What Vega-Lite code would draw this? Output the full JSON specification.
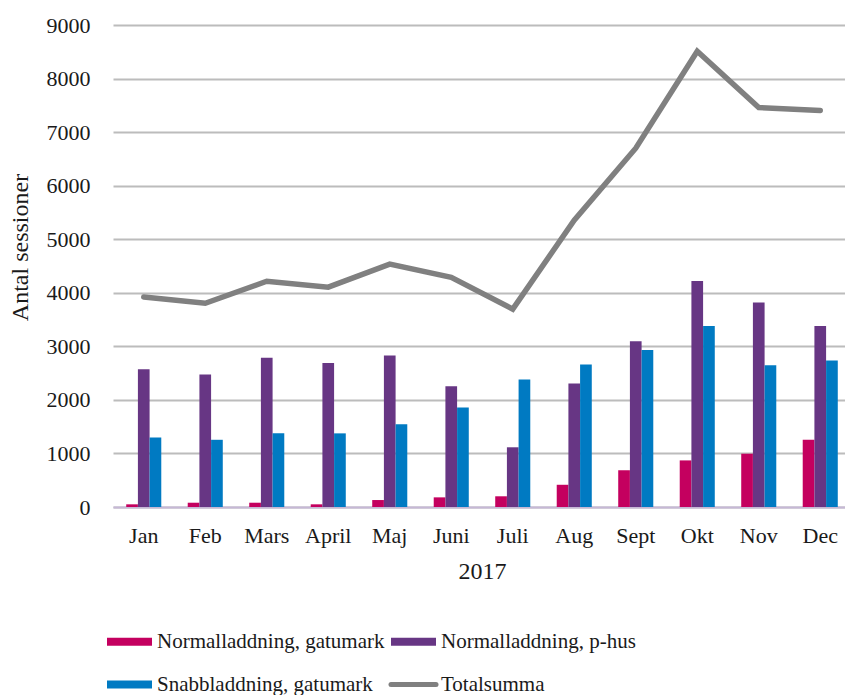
{
  "$schema": "https://vega.github.io/schema/vega-lite/v6.json",
  "autosize": {"type": "none"},
  "width": 738,
  "height": 482,
  "padding": {"left": 113, "top": 25, "right": 0, "bottom": 188},
  "background": "white",
  "config": {
    "font": "Liberation Serif",
    "view": {"stroke": null},
    "axis": {"labelFont": "Liberation Serif", "titleFont": "Liberation Serif", "labelColor": "#1a1a1a", "titleColor": "#1a1a1a", "titleFontWeight": "normal"},
    "legend": {"labelFont": "Liberation Serif"}
  },
  "datasets": {
    "bars": [
      {"month": "Jan", "series": "Normalladdning, gatumark", "value": 50},
      {"month": "Jan", "series": "Normalladdning, p-hus", "value": 2570},
      {"month": "Jan", "series": "Snabbladdning, gatumark", "value": 1300},
      {"month": "Feb", "series": "Normalladdning, gatumark", "value": 80},
      {"month": "Feb", "series": "Normalladdning, p-hus", "value": 2475},
      {"month": "Feb", "series": "Snabbladdning, gatumark", "value": 1255},
      {"month": "Mars", "series": "Normalladdning, gatumark", "value": 80},
      {"month": "Mars", "series": "Normalladdning, p-hus", "value": 2785},
      {"month": "Mars", "series": "Snabbladdning, gatumark", "value": 1375},
      {"month": "April", "series": "Normalladdning, gatumark", "value": 50},
      {"month": "April", "series": "Normalladdning, p-hus", "value": 2690},
      {"month": "April", "series": "Snabbladdning, gatumark", "value": 1375},
      {"month": "Maj", "series": "Normalladdning, gatumark", "value": 130},
      {"month": "Maj", "series": "Normalladdning, p-hus", "value": 2830},
      {"month": "Maj", "series": "Snabbladdning, gatumark", "value": 1545},
      {"month": "Juni", "series": "Normalladdning, gatumark", "value": 180},
      {"month": "Juni", "series": "Normalladdning, p-hus", "value": 2255},
      {"month": "Juni", "series": "Snabbladdning, gatumark", "value": 1860},
      {"month": "Juli", "series": "Normalladdning, gatumark", "value": 200},
      {"month": "Juli", "series": "Normalladdning, p-hus", "value": 1115},
      {"month": "Juli", "series": "Snabbladdning, gatumark", "value": 2380},
      {"month": "Aug", "series": "Normalladdning, gatumark", "value": 415},
      {"month": "Aug", "series": "Normalladdning, p-hus", "value": 2305},
      {"month": "Aug", "series": "Snabbladdning, gatumark", "value": 2660},
      {"month": "Sept", "series": "Normalladdning, gatumark", "value": 685},
      {"month": "Sept", "series": "Normalladdning, p-hus", "value": 3095},
      {"month": "Sept", "series": "Snabbladdning, gatumark", "value": 2930},
      {"month": "Okt", "series": "Normalladdning, gatumark", "value": 870},
      {"month": "Okt", "series": "Normalladdning, p-hus", "value": 4220},
      {"month": "Okt", "series": "Snabbladdning, gatumark", "value": 3380},
      {"month": "Nov", "series": "Normalladdning, gatumark", "value": 995},
      {"month": "Nov", "series": "Normalladdning, p-hus", "value": 3820},
      {"month": "Nov", "series": "Snabbladdning, gatumark", "value": 2645},
      {"month": "Dec", "series": "Normalladdning, gatumark", "value": 1255},
      {"month": "Dec", "series": "Normalladdning, p-hus", "value": 3380},
      {"month": "Dec", "series": "Snabbladdning, gatumark", "value": 2735}
    ],
    "total": [
      {"month": "Jan", "series": "Totalsumma", "value": 3920},
      {"month": "Feb", "series": "Totalsumma", "value": 3805},
      {"month": "Mars", "series": "Totalsumma", "value": 4215},
      {"month": "April", "series": "Totalsumma", "value": 4105},
      {"month": "Maj", "series": "Totalsumma", "value": 4535},
      {"month": "Juni", "series": "Totalsumma", "value": 4290},
      {"month": "Juli", "series": "Totalsumma", "value": 3695},
      {"month": "Aug", "series": "Totalsumma", "value": 5355},
      {"month": "Sept", "series": "Totalsumma", "value": 6700},
      {"month": "Okt", "series": "Totalsumma", "value": 8510},
      {"month": "Nov", "series": "Totalsumma", "value": 7460},
      {"month": "Dec", "series": "Totalsumma", "value": 7405}
    ]
  },
  "encoding": {
    "x": {
      "field": "month", "type": "nominal",
      "sort": ["Jan", "Feb", "Mars", "April", "Maj", "Juni", "Juli", "Aug", "Sept", "Okt", "Nov", "Dec"],
      "scale": {"paddingInner": 0.43, "paddingOuter": 0.215},
      "axis": {"title": "2017", "titleFontSize": 24, "titlePadding": 13, "labelFontSize": 22, "labelAngle": 0, "labelPadding": 18, "ticks": false, "domainColor": "#c6b8d6", "domainWidth": 2, "labelColor": "#1a1a1a"}
    },
    "y": {
      "field": "value", "type": "quantitative",
      "scale": {"domain": [0, 9000], "nice": false},
      "axis": {"title": "Antal sessioner", "titleFontSize": 24, "titlePadding": 14, "titleY": 222, "labelFontSize": 22, "labelPadding": 23, "format": "d", "ticks": false, "domain": false, "values": [0, 1000, 2000, 3000, 4000, 5000, 6000, 7000, 8000, 9000], "gridColor": "#bcbcbc", "gridWidth": 2}
    },
    "color": {
      "field": "series", "type": "nominal",
      "scale": {
        "domain": ["Normalladdning, gatumark", "Normalladdning, p-hus", "Snabbladdning, gatumark", "Totalsumma"],
        "range": ["#c4005f", "#673684", "#007ac2", "#808080"]
      },
      "legend": {
        "title": null, "orient": "none", "legendX": 6, "legendY": 606, "columns": 2, "direction": "horizontal",
        "columnPadding": -10, "rowPadding": 10, "labelFontSize": 21, "labelColor": "#1a1a1a", "labelOffset": 17, "labelLimit": 0,
        "symbolType": "stroke", "symbolSize": 2025, "symbolStrokeWidth": 8,
        "encode": {"symbols": {"update": {
          "stroke": {"scale": "color", "field": "value"},
          "strokeWidth": {"signal": "datum.value === 'Totalsumma' ? 5 : 8"},
          "strokeCap": {"signal": "datum.value === 'Totalsumma' ? 'round' : 'butt'"}
        }}}
      }
    }
  },
  "layer": [
    {
      "data": {"name": "bars"},
      "mark": {"type": "bar"},
      "encoding": {
        "xOffset": {"field": "series", "type": "nominal", "scale": {"paddingInner": 0, "paddingOuter": 0}}
      }
    },
    {
      "data": {"name": "total"},
      "mark": {"type": "line", "strokeWidth": 5.5, "strokeJoin": "miter", "strokeCap": "round"},
      "encoding": {}
    }
  ]
}
